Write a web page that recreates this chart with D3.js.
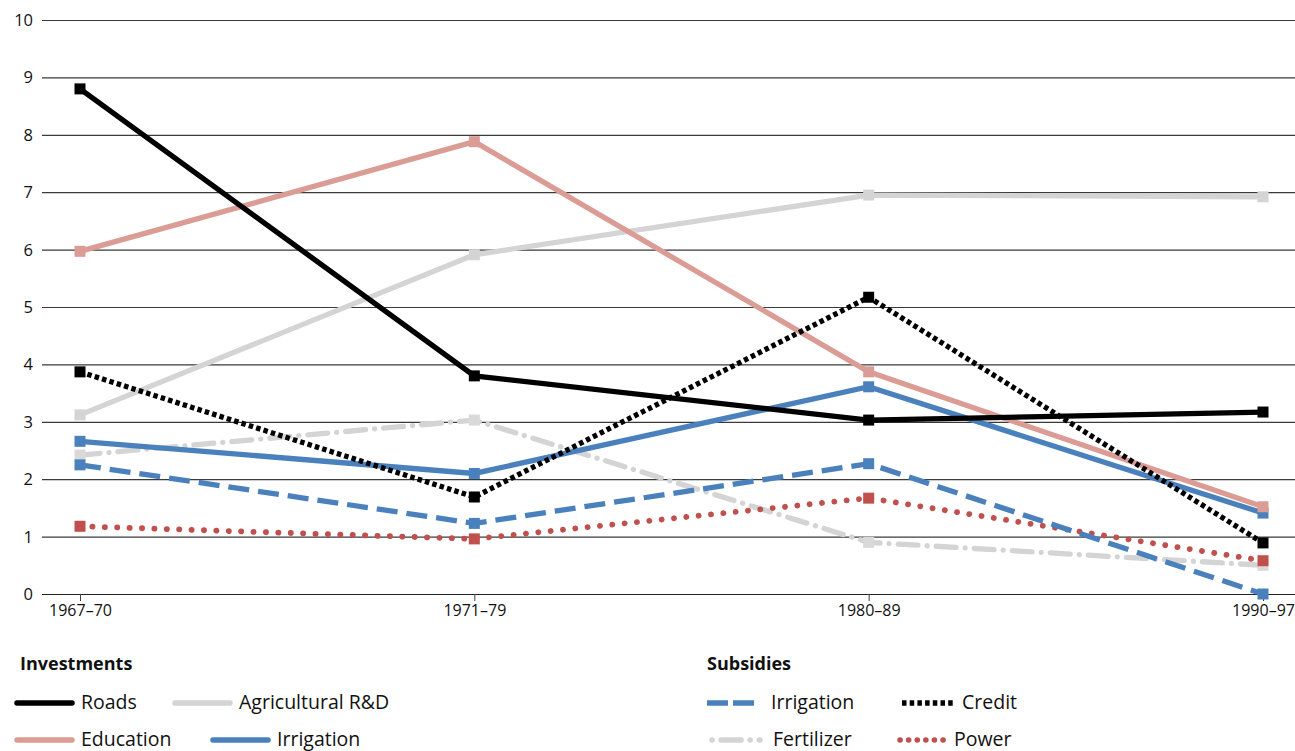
<!DOCTYPE html>
<html><head><meta charset="utf-8">
<script src="https://cdn.jsdelivr.net/npm/d3@7"></script>
<style>
body{margin:0;background:#fff;}
text{font-family:"Open Sans","Noto Sans",sans-serif;fill:#111;}
</style></head>
<body><svg id="c" width="1295" height="751"></svg>
<script>
const periods = ["1967–70","1971–79","1980–89","1990–97"];
const yTicks = [0,1,2,3,4,5,6,7,8,9,10];
const roads = [8.8,3.8,3.03,3.17];
const education = [5.97,7.88,3.87,1.52];
const agriRD = [3.12,5.91,6.95,6.92];
const irrigationInv = [2.66,2.1,3.61,1.41];
const irrigationSub = [2.25,1.23,2.27,0];
const credit = [3.87,1.69,5.17,0.89];
const fertilizer = [2.42,3.03,0.9,0.5];
const power = [1.18,0.96,1.67,0.58];

const series = [
  {name:"Fertilizer", values:fertilizer, color:"#d4d4d4", dash:"20 9 0.1 9", cap:"round", mcolor:"#d9d9d9"},
  {name:"Agricultural R&D", values:agriRD, color:"#d4d4d4", dash:null},
  {name:"Power", values:power, color:"#c0504d", dash:"0.1 12.3", cap:"round", w:5.8},
  {name:"Irrigation (sub)", values:irrigationSub, color:"#4a81bd", dash:"21 9"},
  {name:"Irrigation", values:irrigationInv, color:"#4a81bd", dash:null},
  {name:"Education", values:education, color:"#da9c94", dash:null},
  {name:"Credit", values:credit, color:"#000", dash:"4.5 3.2"},
  {name:"Roads", values:roads, color:"#000", dash:null}
];

const svg = d3.select("#c");
const x = d3.scalePoint().domain(periods).range([80,1263]);
const y = d3.scaleLinear().domain([0,10]).range([594,20]);

svg.append("g").selectAll("line").data(yTicks).join("line")
  .attr("x1",42).attr("x2",1295)
  .attr("y1",d=>y(d)+0.5).attr("y2",d=>y(d)+0.5)
  .attr("stroke",d=>d===0?"#222":"#3a3a3a").attr("stroke-width",1.2);
svg.append("g").selectAll("text").data(yTicks).join("text")
  .attr("x",33).attr("y",d=>y(d)+6).attr("text-anchor","end")
  .attr("font-size",16.5).text(d=>d);
const xa = svg.append("g").attr("transform","translate(0,594)")
  .call(d3.axisBottom(x).tickSize(7).tickPadding(4));
xa.select(".domain").remove();
xa.selectAll(".tick line").attr("stroke","#444");
xa.selectAll("text").attr("font-size",16).attr("fill","#111").attr("font-family","Open Sans");

const line = d3.line().x((d,i)=>x(periods[i])).y(d=>y(d));
series.forEach(s=>{
  svg.append("path").attr("d",line(s.values)).attr("fill","none")
    .attr("stroke",s.color).attr("stroke-width",s.w||5.3)
    .attr("stroke-dasharray",s.dash)
    .attr("stroke-linecap",s.cap||"butt").attr("stroke-linejoin","miter");
  svg.append("g").selectAll("rect").data(s.values).join("rect")
    .attr("x",(d,i)=>x(periods[i])-5.5).attr("y",d=>y(d)-5.5)
    .attr("width",11).attr("height",11).attr("fill",s.mcolor||s.color);
});

const lg = svg.append("g");
lg.append("text").attr("x",20).attr("y",670).attr("font-size",18).attr("font-weight","bold").text("Investments");
lg.append("text").attr("x",707).attr("y",670).attr("font-size",18).attr("font-weight","bold").text("Subsidies");
const legendItems = [
  {label:"Roads", x1:17,x2:72,tx:81,ty:703,color:"#000",dash:null},
  {label:"Agricultural R&D", x1:175,x2:230,tx:239,ty:703,color:"#d4d4d4",dash:null},
  {label:"Education", x1:17,x2:72,tx:81,ty:740,color:"#da9c94",dash:null},
  {label:"Irrigation", x1:213,x2:268,tx:277,ty:740,color:"#4a81bd",dash:null},
  {label:"Irrigation", x1:707,x2:757,tx:771,ty:703,color:"#4a81bd",dash:"21 5",cap:"butt"},
  {label:"Credit", x1:902,x2:955,tx:962,ty:703,color:"#000",dash:"4.5 3.2",cap:"butt"},
  {label:"Fertilizer", x1:712,x2:760,tx:773,ty:740,color:"#d4d4d4",dash:"0.1 9 20 9",cap:"round"},
  {label:"Power", x1:900,x2:948,tx:954,ty:740,color:"#c0504d",dash:"0.1 8.5",cap:"round"}
];
legendItems.forEach(it=>{
  lg.append("line").attr("x1",it.x1).attr("x2",it.x2).attr("y1",it.ty).attr("y2",it.ty)
    .attr("stroke",it.color).attr("stroke-width",5.5)
    .attr("stroke-dasharray",it.dash).attr("stroke-linecap",it.cap||"round");
  lg.append("text").attr("x",it.tx).attr("y",it.ty+6).attr("font-size",19.5).text(it.label);
});
</script></body></html>
